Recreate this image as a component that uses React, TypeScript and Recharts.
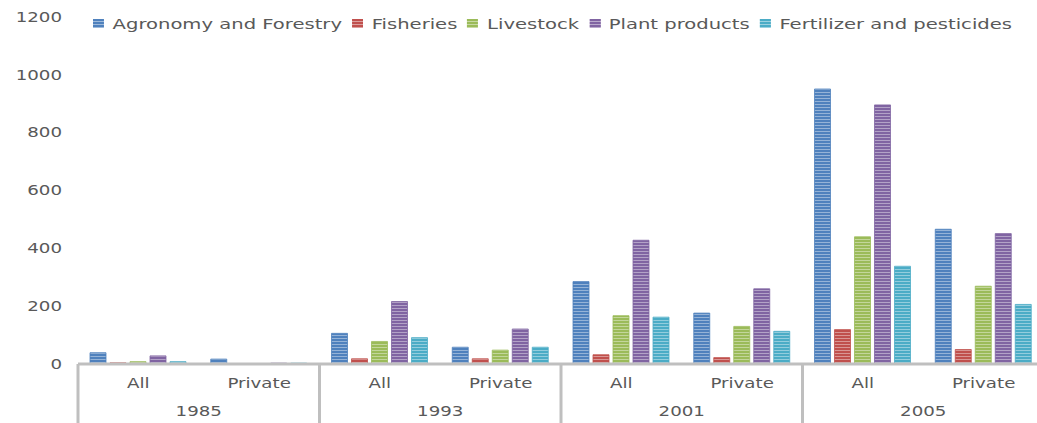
import { BarChart, Bar, XAxis, YAxis, Legend } from "recharts";

const years = ["1985", "1993", "2001", "2005"];
const ownership = ["All", "Private"];

// one value per (year, ownership) pair, in the order above
const agronomy = [39, 17, 106, 58, 285, 176, 951, 466];
const fisheries = [4, 0, 18, 18, 32, 22, 119, 50];
const livestock = [8, 0, 78, 48, 167, 130, 440, 269];
const plantProducts = [28, 3, 216, 121, 428, 260, 896, 451];
const fertilizer = [8, 3, 91, 58, 162, 113, 338, 206];

const yTicks = [0, 200, 400, 600, 800, 1000, 1200];

const series = [
  { key: "agronomy", name: "Agronomy and Forestry", color: "#4F81BD", values: agronomy },
  { key: "fisheries", name: "Fisheries", color: "#C0504D", values: fisheries },
  { key: "livestock", name: "Livestock", color: "#9BBB59", values: livestock },
  { key: "plant", name: "Plant products", color: "#8064A2", values: plantProducts },
  { key: "fertilizer", name: "Fertilizer and pesticides", color: "#4BACC6", values: fertilizer },
];

const rows = years.flatMap((year, i) =>
  ownership.map((sub, j) => {
    const row: Record<string, string | number> = { year, sub };
    series.forEach((s) => {
      row[s.key] = s.values[i * ownership.length + j];
    });
    return row;
  })
);

const W = 1050;
const H = 423;
const MARGIN = { top: 17, right: 6, left: 18, bottom: 0 };
const Y_WIDTH = 60;
const X_HEIGHT = 59;
const BAND = (W - MARGIN.left - Y_WIDTH - MARGIN.right) / rows.length;

// the reference type is stretched sideways
const STRETCH = 1.35;
const FONT = "'DejaVu Sans', Verdana, sans-serif";
const TEXT_COLOR = "#595959";
const LINE_COLOR = "#BFBFBF";

const YTick = (props: any) => {
  const { x, y, payload } = props;
  return (
    <text
      transform={`translate(${x},${y}) scale(${STRETCH},1)`}
      textAnchor="end"
      dy="0.355em"
      fontFamily={FONT}
      fontSize={13.5}
      fill={TEXT_COLOR}
    >
      {payload.value}
    </text>
  );
};

const XTick = (props: any) => {
  const { x, y, payload, index } = props;
  const half = BAND / 2;
  const row = rows[index];
  const isFirst = row && row.sub === ownership[0];
  const isLast = index === rows.length - 1;
  return (
    <g>
      <text
        transform={`translate(${x},${y + 24}) scale(${STRETCH},1)`}
        textAnchor="middle"
        fontFamily={FONT}
        fontSize={13.5}
        fill={TEXT_COLOR}
      >
        {payload.value}
      </text>
      {isFirst && (
        <>
          <line x1={x - half} x2={x - half} y1={y} y2={H} stroke={LINE_COLOR} strokeWidth={3} />
          <text
            transform={`translate(${x + half},${y + 52}) scale(${STRETCH},1)`}
            textAnchor="middle"
            fontFamily={FONT}
            fontSize={13.5}
            fill={TEXT_COLOR}
          >
            {row.year}
          </text>
        </>
      )}
      {isLast && (
        <line x1={x + half} x2={x + half} y1={y} y2={H} stroke={LINE_COLOR} strokeWidth={3} />
      )}
    </g>
  );
};

const LegendContent = () => (
  <div
    style={{
      display: "inline-flex",
      alignItems: "center",
      transform: `scaleX(${STRETCH})`,
      transformOrigin: "left top",
      fontFamily: FONT,
      fontSize: 14.5,
      color: TEXT_COLOR,
      whiteSpace: "nowrap",
    }}
  >
    {series.map((s) => (
      <span key={s.key} style={{ display: "inline-flex", alignItems: "center", marginRight: 7.5 }}>
        <span
          style={{
            width: 8,
            height: 9,
            marginRight: 6.5,
            background: `repeating-linear-gradient(to bottom, ${s.color} 0px, ${s.color} 2px, rgba(255,255,255,0.45) 2px, rgba(255,255,255,0.45) 3px)`,
            backgroundColor: s.color,
          }}
        />
        {s.name}
      </span>
    ))}
  </div>
);

export default function App() {
  return (
    <div style={{ width: 1037, height: H, overflow: "hidden", position: "relative", background: "#fff" }}>
      <style>{"body{margin:0}"}</style>
      <BarChart width={W} height={H} data={rows} margin={MARGIN} barSize={16} barGap={4}>
        <defs>
          {series.map((s) => (
            <pattern
              key={s.key}
              id={`stripe-${s.key}`}
              width={4}
              height={3}
              patternUnits="userSpaceOnUse"
            >
              <rect width={4} height={3} fill={s.color} />
              <rect y={2} width={4} height={1} fill="#ffffff" fillOpacity={0.4} />
            </pattern>
          ))}
        </defs>
        <XAxis
          dataKey="sub"
          height={X_HEIGHT}
          interval={0}
          tickLine={false}
          tickSize={0}
          tickMargin={0}
          axisLine={{ stroke: LINE_COLOR, strokeWidth: 3 }}
          tick={<XTick />}
        />
        <YAxis
          width={Y_WIDTH}
          domain={[0, 1200]}
          ticks={yTicks}
          interval={0}
          axisLine={false}
          tickLine={false}
          tickSize={0}
          tickMargin={16}
          tick={<YTick />}
        />
        <Legend
          layout="horizontal"
          verticalAlign="middle"
          align="center"
          wrapperStyle={{ top: 14, left: 93, width: "auto" }}
          content={<LegendContent />}
        />
        {series.map((s) => (
          <Bar
            key={s.key}
            dataKey={s.key}
            name={s.name}
            fill={`url(#stripe-${s.key})`}
            stroke={s.color}
            strokeWidth={0.8}
            isAnimationActive={false}
          />
        ))}
      </BarChart>
    </div>
  );
}
